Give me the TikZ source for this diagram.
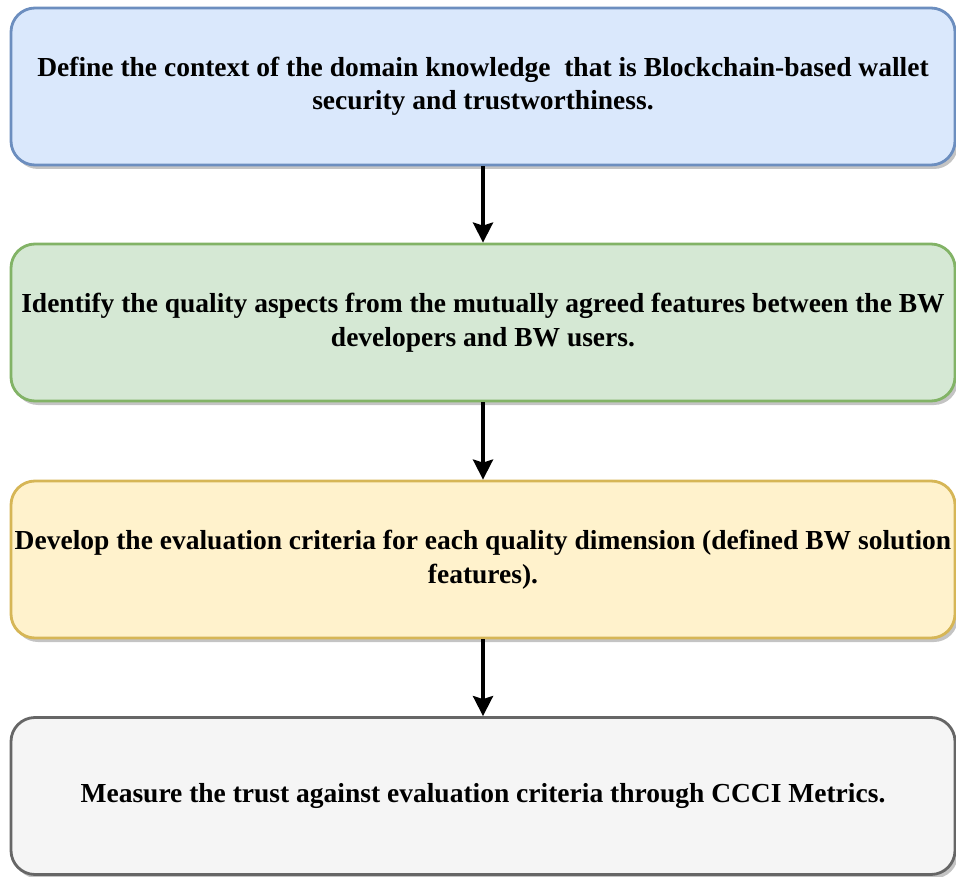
\documentclass[tikz,border=0pt]{standalone}
\usepackage{fontspec}
\setmainfont{Liberation Serif}
\usetikzlibrary{shadows,arrows.meta}

\definecolor{blueFill}{HTML}{DAE8FC}\definecolor{blueLine}{HTML}{6C8EBF}
\definecolor{greenFill}{HTML}{D5E8D4}\definecolor{greenLine}{HTML}{82B366}
\definecolor{yellowFill}{HTML}{FFF2CC}\definecolor{yellowLine}{HTML}{D6B656}
\definecolor{greyFill}{HTML}{F5F5F5}\definecolor{greyLine}{HTML}{666666}
\definecolor{shadowGrey}{HTML}{C4C4C4}

\tikzset{
  stagebox/.style={rectangle, rounded corners=24pt, line width=2.8pt,
    minimum width=944pt, minimum height=157pt, inner sep=0pt,
    align=center, font=\fontsize{27.5}{33.5}\selectfont\bfseries,
    drop shadow={shadow xshift=3pt, shadow yshift=-4pt, fill=shadowGrey, opacity=1}},
  flow/.style={line width=3.8pt, -{Stealth[length=20pt,width=20pt,inset=3pt]}}
}

\begin{document}
\begin{tikzpicture}[x=1pt,y=-1pt]
\useasboundingbox (0,0) rectangle (956,877);

\node[stagebox, fill=blueFill, draw=blueLine] (b1) at (483,86.5)
  {Define the context of the domain knowledge\ \ that is Blockchain-based wallet\\security and trustworthiness.};
\node[stagebox, fill=greenFill, draw=greenLine] (b2) at (483,322.5)
  {Identify the quality aspects from the mutually agreed features between the BW\\developers and BW users.};
\node[stagebox, fill=yellowFill, draw=yellowLine] (b3) at (483,559.5)
  {Develop the evaluation criteria for each quality dimension (defined BW solution\\features).};
\node[stagebox, fill=greyFill, draw=greyLine] (b4) at (483,796)
  {Measure the trust against evaluation criteria through CCCI Metrics.};

\draw[flow] (b1.south) -- (b2.north);
\draw[flow] (b2.south) -- (b3.north);
\draw[flow] (b3.south) -- (b4.north);
\end{tikzpicture}
\end{document}
